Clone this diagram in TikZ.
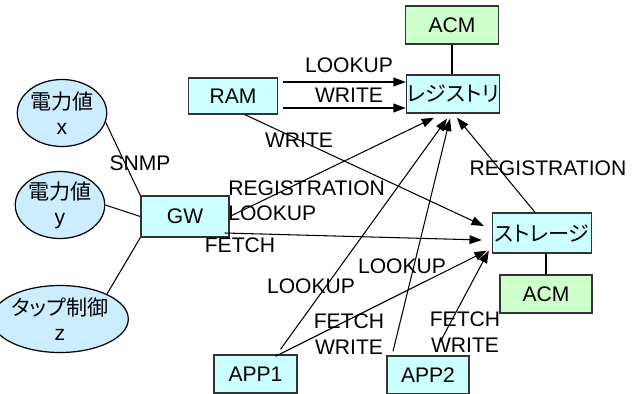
\documentclass[tikz,border=0pt]{standalone}
\usepackage{fontspec}
\setmainfont{Liberation Sans}
\newfontfamily\jpfont{Noto Sans CJK JP}
\newfontfamily\jpkana{Noto Sans CJK JP}[RawFeature=+palt]
\usetikzlibrary{positioning,arrows.meta,shapes.geometric,calc}
\definecolor{cbox}{HTML}{CCFFFF}
\definecolor{cacm}{HTML}{CCFFCC}
\definecolor{cdev}{HTML}{CCECFF}
\definecolor{cline}{HTML}{333333}

\begin{document}
\begin{tikzpicture}[
  font=\fontsize{12}{14.4}\selectfont,
  box/.style={draw=cline, fill=cbox, line width=0.8pt, minimum width=1.8cm, minimum height=0.76cm, inner sep=0pt},
  acmbox/.style={box, fill=cacm},
  dev/.style={ellipse, draw=black, fill=cdev, line width=0.7pt, minimum width=1.5cm, minimum height=1.34cm, inner sep=0pt, align=center},
  lbl/.style={inner sep=0pt, align=center},
  arr/.style={-{Triangle[length=7pt,width=5pt]}, line width=0.6pt},
  lnk/.style={line width=0.6pt},
]
  \useasboundingbox (0,0) rectangle (12.84,-7.88);
  % --- devices ---
  \node[dev] (ex) at (1.24,-2.26) {{\jpfont 電力値}\\x};
  \node[dev] (ey) at (1.20,-4.10) {{\jpfont 電力値}\\y};
  \node[dev] (ez) at (1.20,-6.38) {{\jpkana タップ制御}\\z};
  % --- boxes ---
  \node[box, minimum width=1.76cm, minimum height=0.82cm] (gw) at (3.70,-4.33) {GW};
  \node[box, minimum width=1.78cm, minimum height=0.72cm] (ram) at (4.66,-1.92) {RAM};
  \node[box, minimum width=1.86cm] (reg) at (9.06,-1.88) {\jpkana レジストリ};
  \node[acmbox, minimum width=1.86cm] (acmR) at (9.04,-0.50) {ACM};
  \node[box, minimum width=1.98cm, minimum height=0.80cm] (sto) at (10.84,-4.66) {\jpkana ストレージ};
  \node[acmbox, minimum width=1.84cm] (acmS) at (10.92,-5.88) {ACM};
  \node[box, minimum width=1.66cm] (app1) at (5.11,-7.48) {APP1};
  \node[box, minimum width=1.64cm] (app2) at (8.56,-7.50) {APP2};
  % --- device links ---
  \draw[lnk] (ex.-12) -- (gw.north west);
  \draw[lnk] (ey.east) -- (gw.west);
  \draw[lnk] (ez.28) -- (gw.south west);
  \node[lbl] (snmp) at (2.80,-3.26) {SNMP};
  % --- ACM links ---
  \draw[lnk] (acmR.south) -- (acmR.south |- reg.north);
  \draw[lnk] (acmS.north) -- (acmS.north |- sto.south);
  % --- RAM ---
  \draw[arr] ($(ram.east)+(0.1,0.28)$) -- ($(ram.east -| reg.west)+(0,0.28)$);
  \draw[arr] ($(ram.east)+(0.1,-0.24)$) -- ($(ram.east -| reg.west)+(0,-0.24)$);
  \node[lbl] (l1) at (6.98,-1.30) {LOOKUP};
  \node[lbl] (l2) at (6.98,-1.90) {WRITE};
  \draw[arr] ($(ram.south)+(0.24,0)$) -- ($(sto.west)+(-0.16,0.14)$);
  \node[lbl] (l3) at (5.98,-2.80) {WRITE};
  % --- GW ---
  \draw[arr] (gw.east) -- ($(reg.south)+(-0.38,-0.08)$);
  \node[lbl, align=left, anchor=west] (l4) at (4.56,-4.01) {REGISTRATION\\LOOKUP};
  \draw[arr] ($(gw.east)+(-0.1,-0.33)$) -- ($(sto.west)+(-0.2,-0.14)$);
  \node[lbl] (l5) at (4.80,-4.90) {FETCH};
  % --- storage ---
  \draw[arr] ($(sto.north)+(-0.14,0)$) -- ($(reg.south)+(0.08,-0.08)$);
  \node[lbl] (l6) at (10.96,-3.36) {REGISTRATION};
  % --- apps ---
  \draw[arr] ($(app1.north)+(0.5,0.1)$) -- ($(reg.south)+(-0.12,-0.1)$);
  \draw[arr] ($(app1.north)+(0.4,-0.04)$) -- ($(sto.south west)+(-0.1,0.06)$);
  \draw[arr] ($(app2.north)+(-0.7,0.08)$) -- ($(reg.south)+(-0.06,-0.1)$);
  \draw[arr] ($(app2.north)+(0.24,0.26)$) -- ($(sto.south west)+(-0.06,0.06)$);
  \node[lbl] (l7) at (6.22,-5.72) {LOOKUP};
  \node[lbl] (l8) at (8.04,-5.32) {LOOKUP};
  \node[lbl] (l9) at (6.98,-6.68) {FETCH\\WRITE};
  \node[lbl] (l10) at (9.30,-6.64) {FETCH\\WRITE};
\end{tikzpicture}
\end{document}
